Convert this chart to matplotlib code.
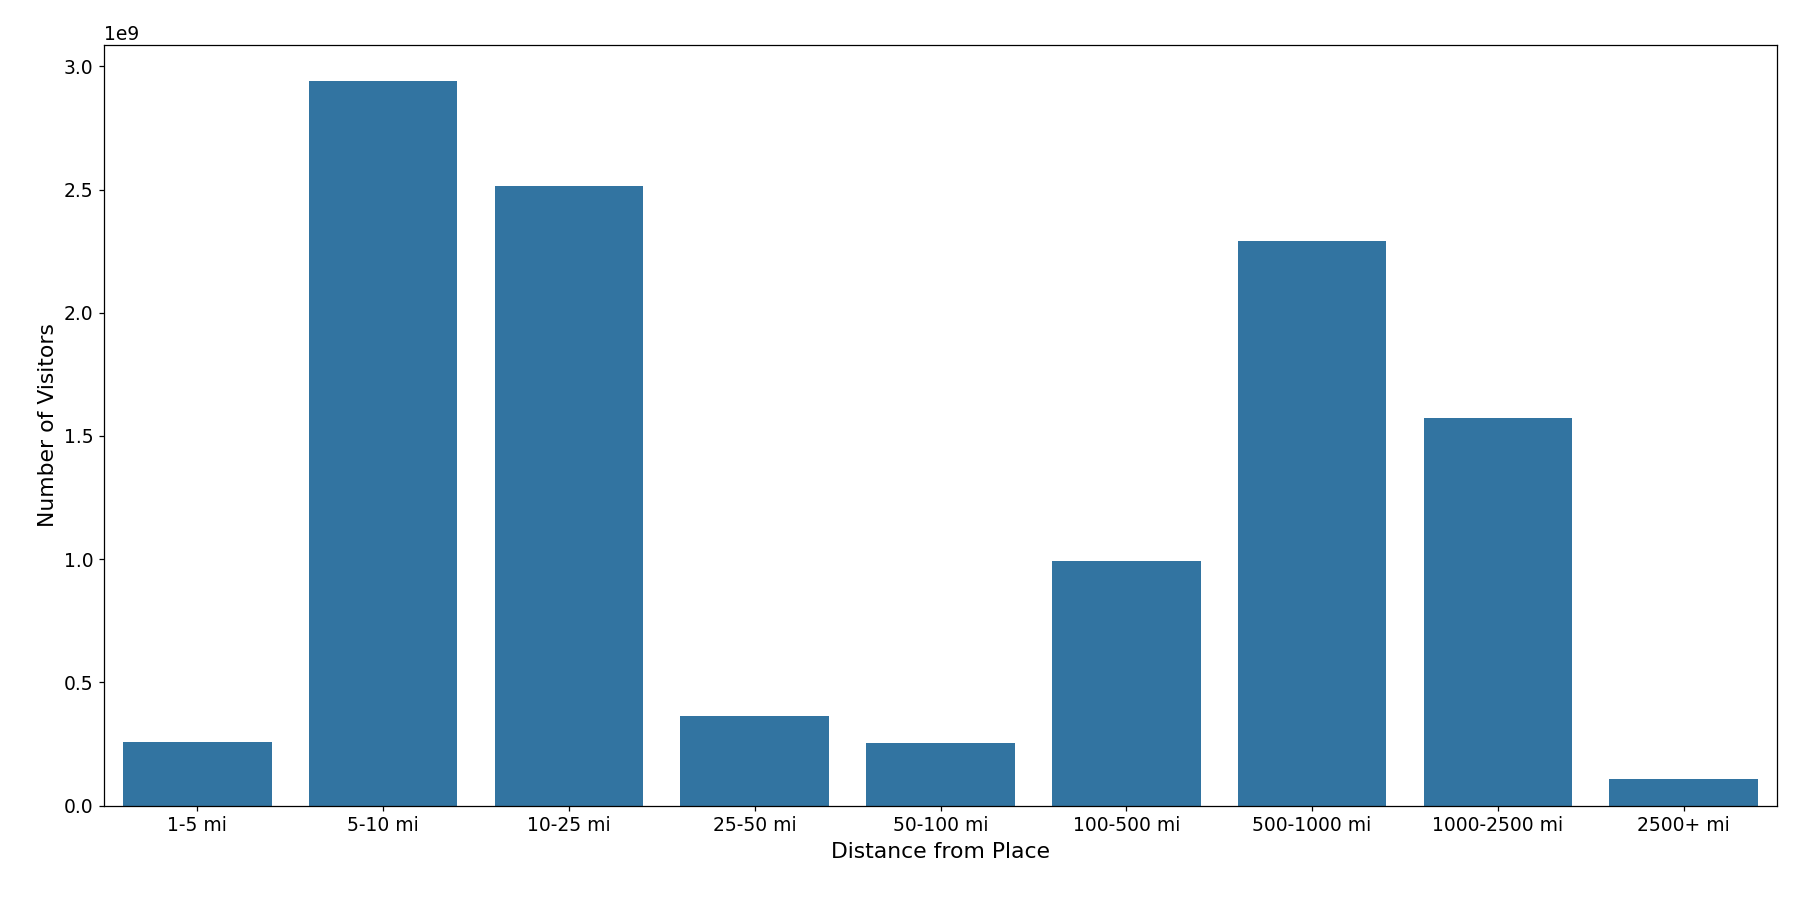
import matplotlib
matplotlib.use("Agg")
import matplotlib.pyplot as plt

distances = ['1-5 mi', '5-10 mi', '10-25 mi', '25-50 mi', '50-100 mi',
             '100-500 mi', '500-1000 mi', '1000-2500 mi', '2500+ mi']
visitors = [0.257e9, 2.94e9, 2.515e9, 0.364e9, 0.254e9,
            0.994e9, 2.291e9, 1.573e9, 0.107e9]

fig, ax = plt.subplots(figsize=(16, 8), dpi=112.5)
x = range(len(distances))
ax.bar(x, visitors, width=0.8, color='#3274a1')
ax.set_xticks(list(x))
ax.set_xticklabels(distances, fontsize=12)
ax.tick_params(axis='y', labelsize=12)
ax.yaxis.get_offset_text().set_fontsize(12)
ax.set_xlim(-0.5, len(distances) - 0.5)
ax.set_xlabel('Distance from Place', fontsize=14)
ax.set_ylabel('Number of Visitors', fontsize=14)
fig.subplots_adjust(left=0.058, right=0.987, top=0.95, bottom=0.105)
fig.savefig('out.png')
